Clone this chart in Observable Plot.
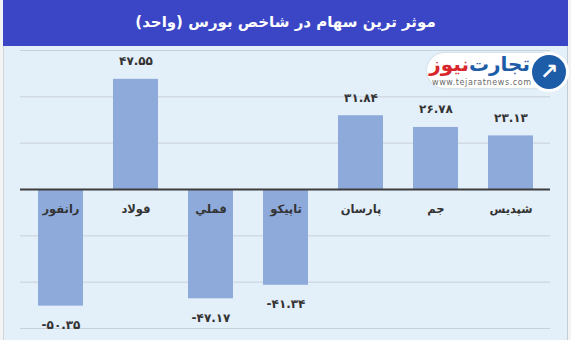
<!DOCTYPE html>
<html><head><meta charset="utf-8">
<script src="https://cdn.jsdelivr.net/npm/d3@7"></script>
<script src="https://cdn.jsdelivr.net/npm/@observablehq/plot@0.6"></script>
<style>
html,body{margin:0;padding:0;background:#f1f3f5;}
#wrap{position:relative;width:571px;height:340px;overflow:hidden;font-family:"DejaVu Sans",sans-serif;}
#panel{position:absolute;left:3px;top:0;width:563px;height:340px;background:#e3eff9;border-left:1px solid #cfd5db;border-right:1px solid #c4ccd4;}
#title{position:absolute;left:3px;top:0;width:565px;height:46px;background:#3b46c7;color:#fff;font-weight:bold;font-size:15px;line-height:44px;text-align:center;direction:rtl;}
#chart{position:absolute;left:0;top:46px;}
#pill{position:absolute;left:427px;top:53px;width:130px;height:35px;background:#fff;border-radius:18px;box-shadow:0 0 2px #b8c4d0;}
#circ{position:absolute;left:529px;top:52px;width:34px;height:34px;border-radius:50%;background:#1d5ca6;border:3px solid #fff;color:#fff;font-size:22px;line-height:34px;text-align:center;font-weight:bold;}
#brand{position:absolute;left:430px;top:52px;width:100px;text-align:center;direction:rtl;font-weight:bold;font-size:20px;line-height:25px;white-space:nowrap;}
#url{position:absolute;left:432px;top:78px;width:96px;text-align:center;font-size:8px;color:#6a6a6a;letter-spacing:0.6px;}
</style></head>
<body>
<div id="wrap">
  <div id="panel"></div>
  <div id="title">موثر ترین سهام در شاخص بورس (واحد)</div>
  <div id="chart"></div>
  <div id="pill"></div>
  <div id="brand"><span style="color:#1d5ca6">تجارت&zwnj;</span><span style="color:#d7262c">نیوز</span></div>
  <div id="url">www.tejaratnews.com</div>
  <div id="circ">↗</div>
</div>
<script>
const categories = ["رانفور", "فولاد", "فملي", "تاپیکو", "پارسان", "جم", "شپدیس"];
const values = [-50.35, 47.55, -47.17, -41.34, 31.84, 26.78, 23.13];
const gridTicks = [-60, -40, -20, 20, 40, 60];

const data = categories.map((name, i) => ({name, value: values[i]}));
const faDigits = "۰۱۲۳۴۵۶۷۸۹";
const toFa = v => v.toFixed(2).replace(/\d/g, d => faDigits[+d]);

const chart = Plot.plot({
  width: 571,
  height: 294,
  marginLeft: 20,
  marginRight: 21,
  marginTop: 4,
  marginBottom: 12,
  x: {domain: categories, paddingInner: 0.405, paddingOuter: 0.2025, axis: null},
  y: {domain: [-60, 60], axis: null},
  style: {background: "transparent", fontFamily: "DejaVu Sans, sans-serif", overflow: "visible"},
  marks: [
    Plot.ruleY(gridTicks, {stroke: "#c8d0d8", strokeWidth: 1}),
    Plot.barY(data, {x: "name", y: "value", fill: "#8eaadb"}),
    Plot.ruleY([0], {stroke: "#3d3d3d", strokeWidth: 2}),
    Plot.text(data, {x: "name", y: 0, dy: 20, text: "name", fontWeight: "bold", fontSize: 11.5, fill: "#333"}),
    Plot.text(data, {filter: d => d.value >= 0, x: "name", y: "value", dy: -18, text: d => toFa(d.value), fontWeight: "bold", fontSize: 12, fill: "#333"}),
    Plot.text(data, {filter: d => d.value < 0, x: "name", y: "value", dy: 19, text: d => toFa(d.value), fontWeight: "bold", fontSize: 12, fill: "#333"})
  ]
});
document.getElementById("chart").appendChild(chart);
</script>
</body></html>
